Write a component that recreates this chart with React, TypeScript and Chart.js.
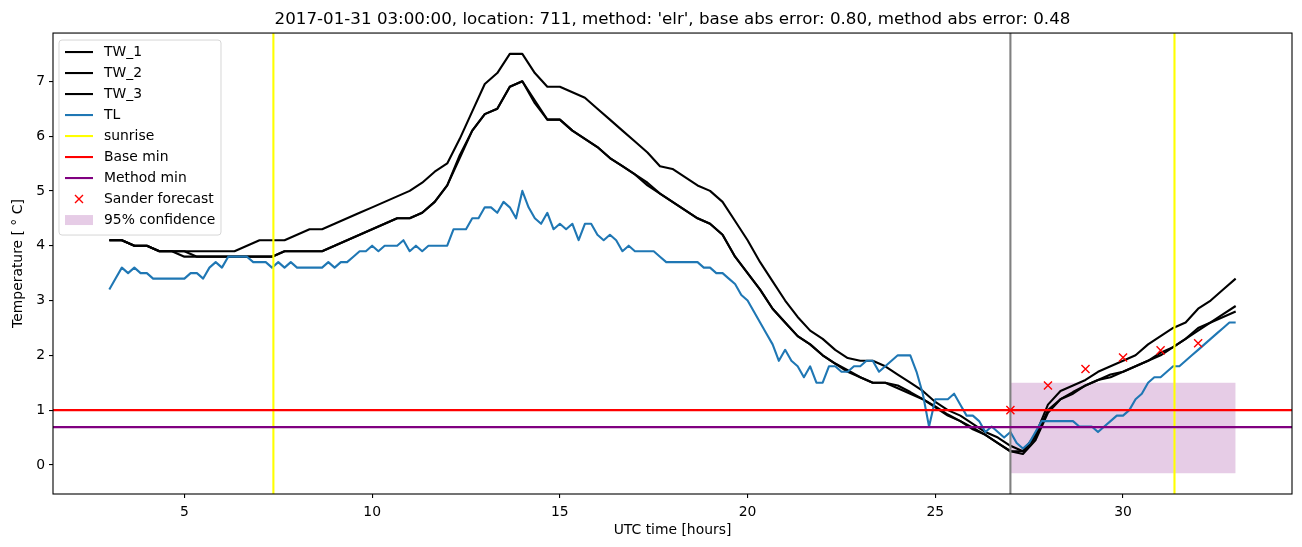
import React, { useEffect, useRef } from "react";
import { Chart, registerables } from "chart.js";

Chart.register(...registerables);

const TITLE =
  "2017-01-31 03:00:00, location: 711, method: 'elr', base abs error: 0.80, method abs error: 0.48";
const X_LABEL = "UTC time [hours]";
const Y_LABEL = "Temperature [ \u00B0 C]";

const X_TICKS = [5, 10, 15, 20, 25, 30];
const Y_TICKS = [0, 1, 2, 3, 4, 5, 6, 7];
const X_MIN = 1.5;
const X_MAX = 34.5;
const Y_MIN = -0.53;
const Y_MAX = 7.88;

// 20-minute readings from 03:00 to 33:00
const TW_TIMES = Array.from({ length: 91 }, (_, i) => 3 + i / 3);
// 10-minute readings from 03:00 to 33:00
const TL_TIMES = Array.from({ length: 181 }, (_, i) => 3 + i / 6);

const TW_1 = [
  4.1, 4.1, 4.0, 4.0, 3.9, 3.9, 3.9, 3.9, 3.9, 3.9,
  3.9, 4.0, 4.1, 4.1, 4.1, 4.2, 4.3, 4.3, 4.4, 4.5,
  4.6, 4.7, 4.8, 4.9, 5.0, 5.15, 5.35, 5.5, 5.95, 6.45,
  6.95, 7.15, 7.5, 7.5, 7.15, 6.9, 6.9, 6.8, 6.7, 6.5,
  6.3, 6.1, 5.9, 5.7, 5.45, 5.4, 5.25, 5.1, 5.0, 4.8,
  4.45, 4.1, 3.7, 3.35, 3.0, 2.7, 2.45, 2.3, 2.1, 1.95,
  1.9, 1.9, 1.8, 1.65, 1.5, 1.35, 1.15, 1.0, 0.9, 0.75,
  0.6, 0.5, 0.35, 0.25, 0.55, 1.1, 1.35, 1.45, 1.55, 1.7,
  1.8, 1.9, 2.0, 2.2, 2.35, 2.5, 2.6, 2.85, 3.0, 3.2,
  3.4,
];

const TW_2 = [
  4.1, 4.1, 4.0, 4.0, 3.9, 3.9, 3.9, 3.8, 3.8, 3.8,
  3.8, 3.8, 3.8, 3.8, 3.9, 3.9, 3.9, 3.9, 4.0, 4.1,
  4.2, 4.3, 4.4, 4.5, 4.5, 4.6, 4.8, 5.1, 5.65, 6.1,
  6.4, 6.5, 6.9, 7.0, 6.65, 6.3, 6.3, 6.1, 5.95, 5.8,
  5.6, 5.45, 5.3, 5.15, 4.95, 4.8, 4.65, 4.5, 4.4, 4.2,
  3.8, 3.5, 3.2, 2.85, 2.6, 2.35, 2.2, 2.0, 1.85, 1.73,
  1.6, 1.5, 1.5, 1.45, 1.33, 1.2, 1.07, 0.92, 0.8, 0.68,
  0.55, 0.4, 0.25, 0.25, 0.5, 1.0, 1.2, 1.33, 1.45, 1.55,
  1.65, 1.7, 1.8, 1.9, 2.05, 2.15, 2.3, 2.5, 2.6, 2.75,
  2.9,
];

const TW_3 = [
  4.1, 4.1, 4.0, 4.0, 3.9, 3.9, 3.8, 3.8, 3.8, 3.8,
  3.8, 3.8, 3.8, 3.8, 3.9, 3.9, 3.9, 3.9, 4.0, 4.1,
  4.2, 4.3, 4.4, 4.5, 4.5, 4.6, 4.8, 5.1, 5.6, 6.1,
  6.4, 6.5, 6.9, 7.0, 6.6, 6.3, 6.3, 6.1, 5.95, 5.8,
  5.6, 5.45, 5.3, 5.1, 4.95, 4.8, 4.65, 4.5, 4.4, 4.2,
  3.8, 3.5, 3.2, 2.85, 2.6, 2.35, 2.2, 2.0, 1.85, 1.7,
  1.6, 1.5, 1.5, 1.4, 1.3, 1.2, 1.05, 0.9, 0.8, 0.65,
  0.55, 0.4, 0.25, 0.2, 0.45, 0.95, 1.2, 1.3, 1.45, 1.55,
  1.6, 1.7, 1.8, 1.9, 2.0, 2.15, 2.3, 2.45, 2.6, 2.7,
  2.8,
];

const TL = [
  3.2, 3.4, 3.6, 3.5, 3.6, 3.5, 3.5, 3.4, 3.4, 3.4,
  3.4, 3.4, 3.4, 3.5, 3.5, 3.4, 3.6, 3.7, 3.6, 3.8,
  3.8, 3.8, 3.8, 3.7, 3.7, 3.7, 3.6, 3.7, 3.6, 3.7,
  3.6, 3.6, 3.6, 3.6, 3.6, 3.7, 3.6, 3.7, 3.7, 3.8,
  3.9, 3.9, 4.0, 3.9, 4.0, 4.0, 4.0, 4.1, 3.9, 4.0,
  3.9, 4.0, 4.0, 4.0, 4.0, 4.3, 4.3, 4.3, 4.5, 4.5,
  4.7, 4.7, 4.6, 4.8, 4.7, 4.5, 5.0, 4.7, 4.5, 4.4,
  4.6, 4.3, 4.4, 4.3, 4.4, 4.1, 4.4, 4.4, 4.2, 4.1,
  4.2, 4.1, 3.9, 4.0, 3.9, 3.9, 3.9, 3.9, 3.8, 3.7,
  3.7, 3.7, 3.7, 3.7, 3.7, 3.6, 3.6, 3.5, 3.5, 3.4,
  3.3, 3.1, 3.0, 2.8, 2.6, 2.4, 2.2, 1.9, 2.1, 1.9,
  1.8, 1.6, 1.8, 1.5, 1.5, 1.8, 1.8, 1.7, 1.7, 1.8,
  1.8, 1.9, 1.9, 1.7, 1.8, 1.9, 2.0, 2.0, 2.0, 1.7,
  1.3, 0.7, 1.2, 1.2, 1.2, 1.3, 1.1, 0.9, 0.9, 0.8,
  0.6, 0.7, 0.6, 0.5, 0.6, 0.4, 0.3, 0.4, 0.6, 0.8,
  0.8, 0.8, 0.8, 0.8, 0.8, 0.7, 0.7, 0.7, 0.6, 0.7,
  0.8, 0.9, 0.9, 1.0, 1.2, 1.3, 1.5, 1.6, 1.6, 1.7,
  1.8, 1.8, 1.9, 2.0, 2.1, 2.2, 2.3, 2.4, 2.5, 2.6,
  2.6,
];

const SUNRISE_HOURS = [7.37, 31.37];
const FORECAST_START = 27.0;
const BASE_MIN = 1.0;
const METHOD_MIN = 0.69;
const SANDER_HOURS = [27, 28, 29, 30, 31, 32];
const SANDER_VALUES = [1.0, 1.45, 1.75, 1.96, 2.09, 2.22];
const CONF_START = 27.0;
const CONF_END = 33.0;
const CONF_LOW = -0.15;
const CONF_HIGH = 1.5;

const FONT = "'DejaVu Sans', 'Liberation Sans', sans-serif";
const BLUE = "#1f77b4";

const pts = (xs: number[], ys: number[]) => xs.map((x, i) => ({ x, y: ys[i] }));

const framePlugin = {
  id: "mplFrame",
  afterDatasetsDraw(chart: any) {
    const { ctx, chartArea: a } = chart;
    ctx.save();
    ctx.strokeStyle = "#000";
    ctx.lineWidth = 1.1;
    ctx.strokeRect(a.left, a.top, a.right - a.left, a.bottom - a.top);
    ctx.restore();
  },
};

const legendPlugin = {
  id: "mplLegend",
  afterDraw(chart: any) {
    const { ctx, chartArea: a } = chart;
    const items = chart.data.datasets.filter((d: any) => !String(d.label).startsWith("_"));
    const x0 = a.left + 6;
    const y0 = a.top + 7;
    const w = 162;
    const rowH = 21;
    const h = 12 + rowH * items.length - 6;
    ctx.save();
    ctx.beginPath();
    const r = 3;
    ctx.moveTo(x0 + r, y0);
    ctx.lineTo(x0 + w - r, y0);
    ctx.arcTo(x0 + w, y0, x0 + w, y0 + r, r);
    ctx.lineTo(x0 + w, y0 + h - r);
    ctx.arcTo(x0 + w, y0 + h, x0 + w - r, y0 + h, r);
    ctx.lineTo(x0 + r, y0 + h);
    ctx.arcTo(x0, y0 + h, x0, y0 + h - r, r);
    ctx.lineTo(x0, y0 + r);
    ctx.arcTo(x0, y0, x0 + r, y0, r);
    ctx.closePath();
    ctx.fillStyle = "rgba(255,255,255,0.8)";
    ctx.fill();
    ctx.strokeStyle = "rgba(204,204,204,0.8)";
    ctx.lineWidth = 1;
    ctx.stroke();

    ctx.font = `13.9px ${FONT}`;
    ctx.textBaseline = "middle";
    ctx.textAlign = "left";
    items.forEach((d: any, k: number) => {
      const cy = y0 + 12 + k * rowH;
      const lx0 = x0 + 6;
      const lx1 = x0 + 34;
      if (d.fill) {
        ctx.fillStyle = d.backgroundColor;
        ctx.fillRect(lx0, cy - 5, lx1 - lx0, 10);
      } else if (d.showLine === false) {
        const cx = (lx0 + lx1) / 2;
        ctx.strokeStyle = d.borderColor;
        ctx.lineWidth = d.pointBorderWidth || 1.4;
        ctx.beginPath();
        ctx.moveTo(cx - 4, cy - 4);
        ctx.lineTo(cx + 4, cy + 4);
        ctx.moveTo(cx - 4, cy + 4);
        ctx.lineTo(cx + 4, cy - 4);
        ctx.stroke();
      } else {
        ctx.strokeStyle = d.borderColor;
        ctx.lineWidth = d.borderWidth;
        ctx.beginPath();
        ctx.moveTo(lx0, cy);
        ctx.lineTo(lx1, cy);
        ctx.stroke();
      }
      ctx.fillStyle = "#000";
      ctx.fillText(d.label, x0 + 45, cy);
    });
    ctx.restore();
  },
};

export default function App() {
  const ref = useRef<HTMLCanvasElement>(null);

  useEffect(() => {
    if (!ref.current) return;
    Chart.defaults.font.family = FONT;

    const lineBase = {
      pointRadius: 0,
      tension: 0,
      fill: false,
      borderWidth: 2.1,
      borderJoinStyle: "round",
    };

    const sunriseData: any[] = [];
    SUNRISE_HOURS.forEach((h, i) => {
      if (i > 0) sunriseData.push({ x: h, y: null });
      sunriseData.push({ x: h, y: Y_MIN }, { x: h, y: Y_MAX });
    });

    const chart = new Chart(ref.current, {
      type: "line",
      data: {
        datasets: [
          { ...lineBase, label: "TW_1", data: pts(TW_TIMES, TW_1), borderColor: "#000", order: 5 },
          { ...lineBase, label: "TW_2", data: pts(TW_TIMES, TW_2), borderColor: "#000", order: 5 },
          { ...lineBase, label: "TW_3", data: pts(TW_TIMES, TW_3), borderColor: "#000", order: 5 },
          { ...lineBase, label: "TL", data: pts(TL_TIMES, TL), borderColor: BLUE, order: 4 },
          {
            ...lineBase,
            label: "sunrise",
            data: sunriseData,
            borderColor: "#ffff00",
            spanGaps: false,
            order: 3,
          },
          {
            ...lineBase,
            label: "Base min",
            data: [
              { x: X_MIN, y: BASE_MIN },
              { x: X_MAX, y: BASE_MIN },
            ],
            borderColor: "#ff0000",
            order: 2,
          },
          {
            ...lineBase,
            label: "Method min",
            data: [
              { x: X_MIN, y: METHOD_MIN },
              { x: X_MAX, y: METHOD_MIN },
            ],
            borderColor: "#800080",
            order: 2,
          },
          {
            label: "Sander forecast",
            data: pts(SANDER_HOURS, SANDER_VALUES),
            showLine: false,
            pointStyle: "crossRot",
            pointRadius: 5.7,
            pointBorderWidth: 1.4,
            borderColor: "#ff0000",
            backgroundColor: "#ff0000",
            order: 1,
          },
          {
            label: "95% confidence",
            data: [
              { x: CONF_START, y: CONF_HIGH },
              { x: CONF_END, y: CONF_HIGH },
            ],
            fill: { value: CONF_LOW },
            backgroundColor: "rgba(128,0,128,0.2)",
            borderColor: "rgba(0,0,0,0)",
            borderWidth: 0.001,
            pointRadius: 0,
            order: 10,
          },
          {
            ...lineBase,
            label: "_forecast_start",
            data: [
              { x: FORECAST_START, y: Y_MIN },
              { x: FORECAST_START, y: Y_MAX },
            ],
            borderColor: "#808080",
            order: 2,
          },
        ] as any,
      },
      options: {
        responsive: false,
        maintainAspectRatio: false,
        devicePixelRatio: 1,
        animation: false,
        layout: { padding: { left: 0, right: 10, top: 0, bottom: 0 } },
        plugins: {
          legend: { display: false },
          tooltip: { enabled: false },
          title: {
            display: true,
            text: TITLE,
            fullSize: false,
            color: "#000",
            font: { size: 16.7, weight: "normal", family: FONT },
            padding: { top: 10, bottom: 3 },
          },
        },
        scales: {
          x: {
            type: "linear",
            min: X_MIN,
            max: X_MAX,
            afterBuildTicks: (s: any) => {
              s.ticks = X_TICKS.map((v) => ({ value: v }));
            },
            afterFit: (s: any) => {
              s.height = 53;
            },
            grid: {
              drawOnChartArea: false,
              drawTicks: true,
              tickLength: 4,
              color: "#000",
              lineWidth: 1.1,
            },
            border: { display: false },
            ticks: {
              color: "#000",
              font: { size: 13.9, family: FONT },
              padding: 6,
              maxRotation: 0,
              autoSkip: false,
            },
            title: {
              display: true,
              text: X_LABEL,
              color: "#000",
              font: { size: 13.9, family: FONT },
              padding: { top: 0, bottom: 8 },
            },
          },
          y: {
            type: "linear",
            min: Y_MIN,
            max: Y_MAX,
            afterBuildTicks: (s: any) => {
              s.ticks = Y_TICKS.map((v) => ({ value: v }));
            },
            afterFit: (s: any) => {
              s.width = 53;
            },
            grid: {
              drawOnChartArea: false,
              drawTicks: true,
              tickLength: 4,
              color: "#000",
              lineWidth: 1.1,
            },
            border: { display: false },
            ticks: {
              color: "#000",
              font: { size: 13.9, family: FONT },
              padding: 4,
              autoSkip: false,
            },
            title: {
              display: true,
              text: Y_LABEL,
              color: "#000",
              font: { size: 13.9, family: FONT },
              padding: { top: 10, bottom: 0 },
            },
          },
        },
      } as any,
      plugins: [framePlugin, legendPlugin],
    });

    return () => chart.destroy();
  }, []);

  return (
    <div
      style={{
        position: "fixed",
        left: 0,
        top: 0,
        width: 1302,
        height: 547,
        background: "#fff",
      }}
    >
      <canvas ref={ref} width={1302} height={547} style={{ display: "block", width: 1302, height: 547 }} />
    </div>
  );
}
